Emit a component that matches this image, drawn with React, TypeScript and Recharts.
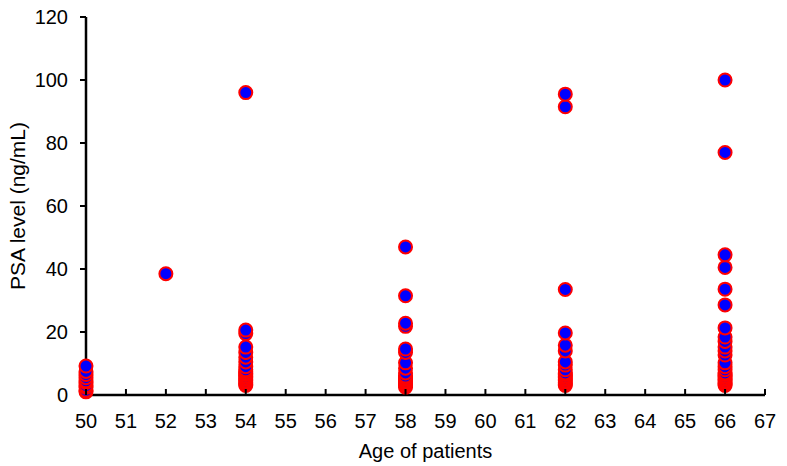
import { ScatterChart, Scatter, XAxis, YAxis } from 'recharts';

const xTicks = [50, 51, 52, 53, 54, 55, 56, 57, 58, 59, 60, 61, 62, 63, 64, 65, 66, 67];
const yTicks = [0, 20, 40, 60, 80, 100, 120];

// PSA values per age, low to high (later points sit on top)
const age50 = [1, 1.5, 2.5, 3, 4, 4.5, 5.5, 6.5, 7.5, 9.2];
const age52 = [38.5];
const age54 = [3, 3.5, 4, 4.5, 5, 5.5, 6, 6.5, 7, 7.5, 8, 9, 10.5, 12, 13.5, 15.2, 19.5, 20.6, 96];
const age58 = [2.5, 3, 3.5, 4, 4.5, 5, 5.5, 6, 7, 8.5, 10.2, 13.5, 14.6, 21.8, 22.8, 31.5, 47];
const age62 = [3, 3.5, 4, 4.5, 5, 5.5, 6, 6.5, 7, 8, 9.5, 10.5, 14, 15.8, 19.7, 33.5, 91.5, 95.5];
const age66 = [3, 3.5, 4, 4.5, 5, 5.5, 6, 6.5, 7, 8, 9, 10.2, 12.7, 14, 15.2, 17, 18.4, 21.3, 28.6, 33.6, 40.5, 44.5, 77, 100];

const groups: [number, number[]][] = [
  [50, age50],
  [52, age52],
  [54, age54],
  [58, age58],
  [62, age62],
  [66, age66],
];

const points = groups.flatMap(([age, vals]) => vals.map((psa) => ({ age, psa })));

const font = '"Liberation Sans", Arial, sans-serif';

function Dot(props: any) {
  return <circle cx={props.cx} cy={props.cy} r={6.5} fill="#0000ff" stroke="#ff0000" strokeWidth={2} />;
}

function XTick(props: any) {
  const { x, y, payload } = props;
  return (
    <g>
      <line x1={x} x2={x} y1={y} y2={y - 6} stroke="#000" strokeWidth={2} />
      <text x={x} y={y + 33} textAnchor="middle" fontSize={20} fill="#000" fontFamily={font}>
        {payload.value}
      </text>
    </g>
  );
}

export default function App() {
  return (
    <div style={{ position: 'absolute', left: 0, top: 0, background: '#fff' }}>
      <ScatterChart width={787} height={466} margin={{ top: 17, right: 22, left: 26, bottom: 11 }}>
        <XAxis
          type="number"
          dataKey="age"
          domain={[50, 67]}
          ticks={xTicks}
          interval={0}
          tickSize={0}
          tickMargin={0}
          tick={<XTick />}
          height={60}
          axisLine={{ stroke: '#000', strokeWidth: 2.5 }}
          label={{
            value: 'Age of patients',
            position: 'insideBottom',
            offset: -3,
            style: { fontSize: 20, fill: '#000', fontFamily: font },
          }}
        />
        <YAxis
          type="number"
          dataKey="psa"
          domain={[0, 120]}
          ticks={yTicks}
          interval={0}
          width={60}
          tickSize={6}
          tickMargin={12}
          axisLine={{ stroke: '#000', strokeWidth: 2.5 }}
          tickLine={{ stroke: '#000', strokeWidth: 2 }}
          tick={{ fontSize: 20, fill: '#000', fontFamily: font }}
          label={{
            value: 'PSA level (ng/mL)',
            angle: -90,
            position: 'insideLeft',
            offset: -8,
            style: { fontSize: 21, fill: '#000', fontFamily: font, textAnchor: 'middle' },
          }}
        />
        <Scatter data={points} shape={<Dot />} isAnimationActive={false} />
      </ScatterChart>
    </div>
  );
}
